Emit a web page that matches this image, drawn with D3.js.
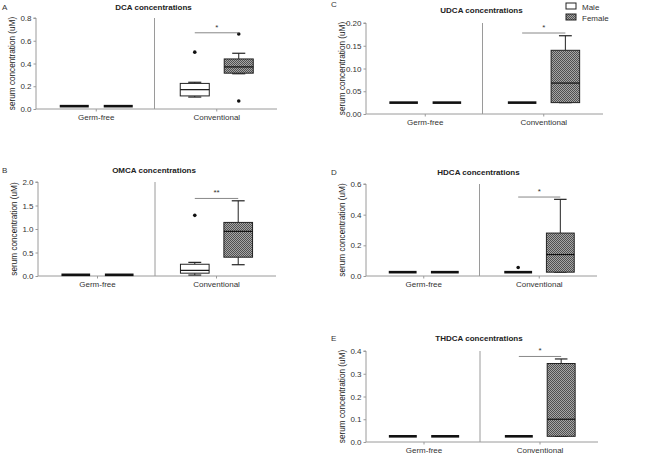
<!DOCTYPE html>
<html>
<head>
<meta charset="utf-8">
<script src="https://cdn.jsdelivr.net/npm/d3@7"></script>
<style>
  html, body { margin: 0; padding: 0; background: #fff; }
  svg { display: block; font-family: "Liberation Sans", Arial, sans-serif; }
</style>
</head>
<body>
<svg id="chart" width="660" height="454"></svg>
<script>
// ---------- DATA ----------
const groups = ["Germ-free", "Conventional"];
const sexes = ["Male", "Female"];

const panelLetters = ["A", "B", "C", "D", "E"];
const panelTitles = ["DCA concentrations", "OMCA concentrations", "UDCA concentrations", "HDCA concentrations", "THDCA concentrations"];
const yMaxes = [0.8, 2.0, 0.20, 0.6, 0.4];
const yTickValues = [
  [0, 0.2, 0.4, 0.6, 0.8],
  [0, 0.5, 1.0, 1.5, 2.0],
  [0, 0.05, 0.10, 0.15, 0.20],
  [0, 0.2, 0.4, 0.6],
  [0, 0.1, 0.2, 0.3, 0.4]
];
const yTickFormats = [".1f", ".1f", ".2f", ".1f", ".1f"];

// box stats: [group, sex, whiskerLow, q1, median, q3, whiskerHigh]
const dcaBoxes = [
  ["Germ-free", "Male", 0.025, 0.025, 0.025, 0.025, 0.025],
  ["Germ-free", "Female", 0.025, 0.025, 0.025, 0.025, 0.025],
  ["Conventional", "Male", 0.105, 0.115, 0.17, 0.225, 0.235],
  ["Conventional", "Female", 0.31, 0.315, 0.37, 0.44, 0.49]
];
const omcaBoxes = [
  ["Germ-free", "Male", 0.025, 0.025, 0.025, 0.025, 0.025],
  ["Germ-free", "Female", 0.025, 0.025, 0.025, 0.025, 0.025],
  ["Conventional", "Male", 0.02, 0.06, 0.12, 0.25, 0.29],
  ["Conventional", "Female", 0.24, 0.40, 0.95, 1.14, 1.60]
];
const udcaBoxes = [
  ["Germ-free", "Male", 0.025, 0.025, 0.025, 0.025, 0.025],
  ["Germ-free", "Female", 0.025, 0.025, 0.025, 0.025, 0.025],
  ["Conventional", "Male", 0.025, 0.025, 0.025, 0.025, 0.025],
  ["Conventional", "Female", 0.025, 0.025, 0.068, 0.14, 0.172]
];
const hdcaBoxes = [
  ["Germ-free", "Male", 0.025, 0.025, 0.025, 0.025, 0.025],
  ["Germ-free", "Female", 0.025, 0.025, 0.025, 0.025, 0.025],
  ["Conventional", "Male", 0.025, 0.025, 0.025, 0.025, 0.025],
  ["Conventional", "Female", 0.025, 0.025, 0.14, 0.28, 0.50]
];
const thdcaBoxes = [
  ["Germ-free", "Male", 0.025, 0.025, 0.025, 0.025, 0.025],
  ["Germ-free", "Female", 0.025, 0.025, 0.025, 0.025, 0.025],
  ["Conventional", "Male", 0.025, 0.025, 0.025, 0.025, 0.025],
  ["Conventional", "Female", 0.025, 0.025, 0.10, 0.345, 0.365]
];

// outliers: [group, sex, value]
const dcaOutliers = [["Conventional", "Male", 0.50], ["Conventional", "Female", 0.66], ["Conventional", "Female", 0.07]];
const omcaOutliers = [["Conventional", "Male", 1.29]];
const udcaOutliers = [];
const hdcaOutliers = [["Conventional", "Male", 0.055]];
const thdcaOutliers = [];

// significance bars: value and label (Male vs Female within Conventional)
const sigValues = [0.67, 1.65, 0.178, 0.515, 0.376];
const sigLabels = ["*", "**", "*", "*", "*"];

// ---------- LAYOUT ----------
const panelBoxes = [
  {left: 36, right: 277, top: 18, bottom: 109, titleY: 10, letterX: 2, letterY: 10},
  {left: 38, right: 276, top: 182, bottom: 276, titleY: 173, letterX: 2, letterY: 173},
  {left: 366, right: 603, top: 23, bottom: 114, titleY: 13, letterX: 331, letterY: 7},
  {left: 366, right: 597, top: 184, bottom: 276, titleY: 175, letterX: 331, letterY: 175},
  {left: 366, right: 598, top: 351, bottom: 442, titleY: 341, letterX: 331, letterY: 341}
];
const allBoxes = [dcaBoxes, omcaBoxes, udcaBoxes, hdcaBoxes, thdcaBoxes];
const allOutliers = [dcaOutliers, omcaOutliers, udcaOutliers, hdcaOutliers, thdcaOutliers];

const svg = d3.select("#chart");
const defs = svg.append("defs");
const pat = defs.append("pattern").attr("id", "chk")
  .attr("width", 2).attr("height", 2).attr("patternUnits", "userSpaceOnUse");
pat.append("rect").attr("width", 2).attr("height", 2).attr("fill", "#a6a6a6");
pat.append("rect").attr("x", 0).attr("y", 0).attr("width", 1).attr("height", 1).attr("fill", "#505050");
pat.append("rect").attr("x", 1).attr("y", 1).attr("width", 1).attr("height", 1).attr("fill", "#505050");

const axisColor = "#9a9a9a";
const textColor = "#333";

panelBoxes.forEach((pb, i) => {
  const g = svg.append("g");
  const x0 = d3.scaleBand().domain(groups).range([pb.left, pb.right]);
  const x1 = d3.scaleBand().domain(sexes).range([0, x0.bandwidth()]).paddingInner(0.34).paddingOuter(0.54);
  const y = d3.scaleLinear().domain([0, yMaxes[i]]).range([pb.bottom, pb.top]);

  // letter & title
  g.append("text").attr("x", pb.letterX).attr("y", pb.letterY)
    .attr("font-size", 8).attr("fill", textColor).text(panelLetters[i]);
  g.append("text").attr("x", (pb.left + pb.right) / 2 - 3).attr("y", pb.titleY)
    .attr("text-anchor", "middle").attr("font-size", 8).attr("font-weight", "bold")
    .attr("fill", "#222").text(panelTitles[i]);

  // y axis
  const yAxis = d3.axisLeft(y).tickValues(yTickValues[i]).tickFormat(d3.format(yTickFormats[i]))
    .tickSize(2.5).tickPadding(2);
  const ya = g.append("g").attr("transform", `translate(${pb.left},0)`).call(yAxis);
  ya.select(".domain").attr("stroke", axisColor).attr("d", `M-2.5,${pb.top}H0V${pb.bottom}`);
  ya.selectAll(".tick line").attr("stroke", axisColor);
  ya.selectAll(".tick text").attr("font-size", 8).attr("fill", textColor).attr("font-family", "Liberation Sans, Arial, sans-serif");

  // x axis
  const xAxis = d3.axisBottom(x0).tickSize(2.5).tickPadding(3);
  const xa = g.append("g").attr("transform", `translate(0,${pb.bottom})`).call(xAxis);
  xa.select(".domain").attr("stroke", axisColor).attr("d", `M${pb.left},0H${pb.right}`);
  xa.selectAll(".tick line").attr("stroke", axisColor);
  xa.selectAll(".tick text").attr("font-size", 8).attr("fill", textColor).attr("font-family", "Liberation Sans, Arial, sans-serif");

  // y label
  g.append("text")
    .attr("transform", `translate(${pb.left - 21},${(pb.top + pb.bottom) / 2}) rotate(-90)`)
    .attr("text-anchor", "middle").attr("font-size", 8.2).attr("fill", "#1a1a1a")
    .text("serum concentration (uM)");

  // divider
  const divX = x0("Conventional") - 2;
  g.append("line").attr("x1", divX).attr("x2", divX).attr("y1", pb.top).attr("y2", pb.bottom)
    .attr("stroke", axisColor).attr("stroke-width", 1);

  // boxes
  const bw = x1.bandwidth();
  allBoxes[i].forEach(b => {
    const [grp, sex, lo, q1, med, q3, hi] = b;
    const bx = x0(grp) + x1(sex);
    const cx = bx + bw / 2;
    const capW = bw * 0.45;
    const bg = g.append("g");
    if (q3 - q1 < 1e-9 && hi - lo < 1e-9) {
      bg.append("rect").attr("x", bx).attr("y", y(med) - 1.3).attr("width", bw).attr("height", 2.6).attr("fill", "#111");
      return;
    }
    // whiskers
    bg.append("line").attr("x1", cx).attr("x2", cx).attr("y1", y(q3)).attr("y2", y(hi)).attr("stroke", "#222");
    bg.append("line").attr("x1", cx).attr("x2", cx).attr("y1", y(q1)).attr("y2", y(lo)).attr("stroke", "#222");
    bg.append("line").attr("x1", cx - capW / 2).attr("x2", cx + capW / 2).attr("y1", y(hi)).attr("y2", y(hi)).attr("stroke", "#222").attr("stroke-width", 1.2);
    bg.append("line").attr("x1", cx - capW / 2).attr("x2", cx + capW / 2).attr("y1", y(lo)).attr("y2", y(lo)).attr("stroke", "#222").attr("stroke-width", 1.2);
    bg.append("rect").attr("x", bx).attr("y", y(q3)).attr("width", bw).attr("height", Math.max(0, y(q1) - y(q3)))
      .attr("fill", sex === "Female" ? "url(#chk)" : "#fff").attr("stroke", "#222").attr("stroke-width", 1);
    bg.append("line").attr("x1", bx).attr("x2", bx + bw).attr("y1", y(med)).attr("y2", y(med)).attr("stroke", "#111").attr("stroke-width", 1.2);
  });

  // outliers
  allOutliers[i].forEach(o => {
    const [grp, sex, v] = o;
    g.append("circle").attr("cx", x0(grp) + x1(sex) + bw / 2).attr("cy", y(v)).attr("r", 1.8).attr("fill", "#111");
  });

  // significance bar
  const sx1 = x0("Conventional") + x1("Male") + bw / 2;
  const sx2 = x0("Conventional") + x1("Female") + bw / 2;
  g.append("line").attr("x1", sx1).attr("x2", sx2).attr("y1", y(sigValues[i])).attr("y2", y(sigValues[i]))
    .attr("stroke", "#888").attr("stroke-width", 1);
  g.append("text").attr("x", (sx1 + sx2) / 2).attr("y", y(sigValues[i]) - 3)
    .attr("text-anchor", "middle").attr("font-size", 8).attr("fill", "#333").text(sigLabels[i]);
});

// legend
const leg = svg.append("g").attr("transform", "translate(566,2)");
sexes.forEach((s, k) => {
  const ly = k * 11;
  leg.append("rect").attr("x", 0).attr("y", ly + 1).attr("width", 10).attr("height", 6)
    .attr("fill", s === "Female" ? "url(#chk)" : "#fff").attr("stroke", "#222").attr("stroke-width", 1);
  leg.append("text").attr("x", 16).attr("y", ly + 7.5).attr("font-size", 8).attr("fill", "#333").text(s);
});
</script>
</body>
</html>
